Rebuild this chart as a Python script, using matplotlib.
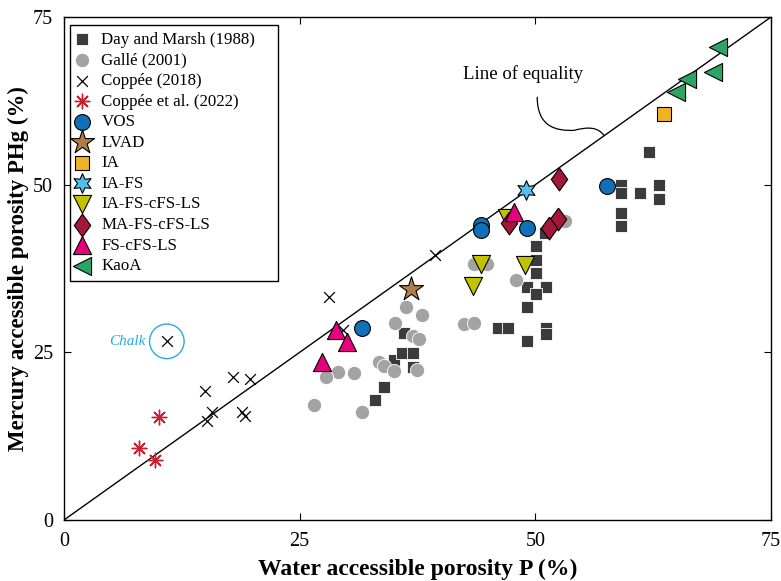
import matplotlib.pyplot as plt
from matplotlib.path import Path
from matplotlib.patches import PathPatch

plt.rcParams['font.family'] = ['Liberation Serif', 'DejaVu Serif']

# Day and Marsh (1988)
day_x = [36.05, 34.98, 35.88, 37.0, 37.0, 34.0, 33.0, 50.04, 50.04, 50.04, 49.08, 51.1, 50.04,
         49.08, 46.03, 47.1, 51.1, 51.1, 49.08, 51.0, 62.07, 59.07, 59.07, 61.09, 63.07, 63.07,
         59.07, 59.07]
day_y = [27.84, 23.86, 24.85, 24.85, 22.76, 19.77, 17.88, 40.79, 38.8, 36.8, 34.8, 34.8, 33.7,
         31.7, 28.7, 28.7, 28.7, 27.8, 26.7, 42.8, 54.9, 49.9, 48.7, 48.75, 49.9, 47.8,
         45.8, 43.9]

# Gallé (2001)
galle_x = [36.33, 38.03, 35.09, 37.0, 37.64, 33.39, 33.92, 34.98, 37.47, 29.08, 27.83, 30.73,
           26.48, 31.63, 43.48, 44.9, 48.0, 53.2, 42.4, 43.48]
galle_y = [31.82, 30.63, 29.33, 27.49, 27.0, 23.5, 23.0, 22.16, 22.37, 22.0, 21.37, 21.86,
           17.14, 16.03, 38.2, 38.1, 35.8, 44.57, 29.24, 29.33]

# Coppée (2018), first point is the chalk
cop18_x = [10.91, 14.98, 17.88, 19.69, 15.75, 15.22, 18.88, 19.23, 28.12, 29.61, 39.31]
cop18_y = [26.64, 19.17, 21.37, 21.02, 16.03, 14.79, 16.03, 15.54, 33.21, 28.34, 39.44]

# Coppée et al. (2022)
cop22_x = [10.12, 7.97, 9.67]
cop22_y = [15.39, 10.8, 8.92]

vos_x = [31.63, 44.19, 44.19, 49.16, 57.65]
vos_y = [28.64, 43.93, 43.28, 43.58, 49.8]

lvad_x = [36.86]
lvad_y = [34.47]

ia_x = [63.67]
ia_y = [60.5]

iafs_x = [49.05]
iafs_y = [49.16]

iafscfs_x = [44.19, 48.87, 43.42, 46.96]
iafscfs_y = [38.2, 37.95, 34.96, 45.07]

mafs_x = [52.56, 47.2, 52.45, 51.45]
mafs_y = [50.9, 44.33, 44.93, 43.58]

fscfs_x = [28.9, 30.03, 27.38, 47.73]
fscfs_y = [28.34, 26.49, 23.6, 45.91]

kaoa_x = [69.34, 68.81, 66.08, 64.91]
kaoa_y = [70.47, 66.74, 65.7, 63.84]

ticks = [0, 25, 50, 75]

# slightly narrow diamond
diamond = [(0, 1), (0.72, 0), (0, -1), (-0.72, 0), (0, 1)]

fig = plt.figure(figsize=(7.81, 5.81), dpi=100)
ax = fig.add_axes([0.0819, 0.105, 0.9053, 0.8657])

# line of equality
ax.plot([0, 75], [0, 75], color='black', lw=1.0, zorder=1)

ax.scatter(day_x, day_y, marker='s', s=80, color='#3b3b3b', edgecolors='white',
           linewidths=0.6, label='Day and Marsh (1988)', zorder=2)
ax.scatter(galle_x, galle_y, marker='o', s=105, color='#a3a3a3', edgecolors='white',
           linewidths=0.6, label='Gallé (2001)', zorder=3)
ax.scatter(cop18_x, cop18_y, marker='x', s=60, color='black', linewidths=0.9,
           label='Coppée (2018)', zorder=4)
ax.scatter(cop22_x, cop22_y, marker=(8, 2, 0), s=110, color='#c8202f', linewidths=1.0,
           label='Coppée et al. (2022)', zorder=4)
ax.scatter(vos_x, vos_y, marker='o', s=130, color='#1170b8', edgecolors='black',
           linewidths=0.8, label='VOS', zorder=5)
ax.scatter(lvad_x, lvad_y, marker='*', s=330, color='#b07d48', edgecolors='black',
           linewidths=0.8, label='LVAD', zorder=5)
ax.scatter(ia_x, ia_y, marker='s', s=90, color='#f0b323', edgecolors='black',
           linewidths=0.8, label='IA', zorder=5)
ax.scatter(iafs_x, iafs_y, marker=(6, 1, 0), s=200, color='#56bdef', edgecolors='black',
           linewidths=0.8, label='IA-FS', zorder=5)
ax.scatter(iafscfs_x, iafscfs_y, marker='v', s=170, color='#c2c200', edgecolors='black',
           linewidths=0.8, label='IA-FS-cFS-LS', zorder=5)
ax.scatter(mafs_x, mafs_y, marker=diamond, s=270, color='#a3173a', edgecolors='black',
           linewidths=0.8, label='MA-FS-cFS-LS', zorder=6)
ax.scatter(fscfs_x, fscfs_y, marker='^', s=170, color='#e6007e', edgecolors='black',
           linewidths=0.8, label='FS-cFS-LS', zorder=6)
ax.scatter(kaoa_x, kaoa_y, marker='<', s=170, color='#2ba563', edgecolors='black',
           linewidths=0.8, label='KaoA', zorder=6)

# chalk highlight
ax.scatter([cop18_x[0]], [cop18_y[0]], marker='o', s=620, facecolors='none',
           edgecolors='#29abe2', linewidths=1.0, zorder=4)
ax.text(8.6, cop18_y[0], 'Chalk', style='italic', color='#29abe2', fontsize=11,
        ha='right', va='center')

# line of equality label
ax.text(48.7, 66.5, 'Line of equality', fontsize=13.5, ha='center', va='center')
verts = [(50.2, 63.1), (50.2, 58.6), (52.2, 58.0), (54.1, 58.1),
         (55.5, 58.6), (56.6, 58.7), (57.3, 57.3)]
codes = [Path.MOVETO, Path.CURVE4, Path.CURVE4, Path.CURVE4,
         Path.CURVE4, Path.CURVE4, Path.CURVE4]
ax.add_patch(PathPatch(Path(verts, codes), facecolor='none', edgecolor='black', lw=0.9))

ax.set_xlim(0, 75)
ax.set_ylim(0, 75)
ax.set_xticks(ticks)
ax.set_yticks(ticks)
ax.tick_params(direction='in', top=True, right=True, length=5, labelsize=14.5)
ax.tick_params(axis='x', pad=9)
ax.tick_params(axis='y', pad=8)
for sp in ax.spines.values():
    sp.set_linewidth(1.0)

ax.set_xlabel('Water accessible porosity P (%)', fontsize=17, fontweight='bold', labelpad=5)
ax.set_ylabel('Mercury accessible porosity PHg (%)', fontsize=16.5, fontweight='bold', labelpad=3)

leg = ax.legend(loc='upper left', bbox_to_anchor=(0.0085, 0.0, 0.294, 0.984), mode='expand',
                fontsize=12.2, frameon=True, fancybox=False, edgecolor='black', framealpha=1,
                borderaxespad=0.0, labelspacing=0.27, handlelength=0.6, handletextpad=0.85,
                borderpad=0.4, scatterpoints=1)
leg.get_frame().set_linewidth(1.0)

fig.savefig('out.png', dpi=100)
